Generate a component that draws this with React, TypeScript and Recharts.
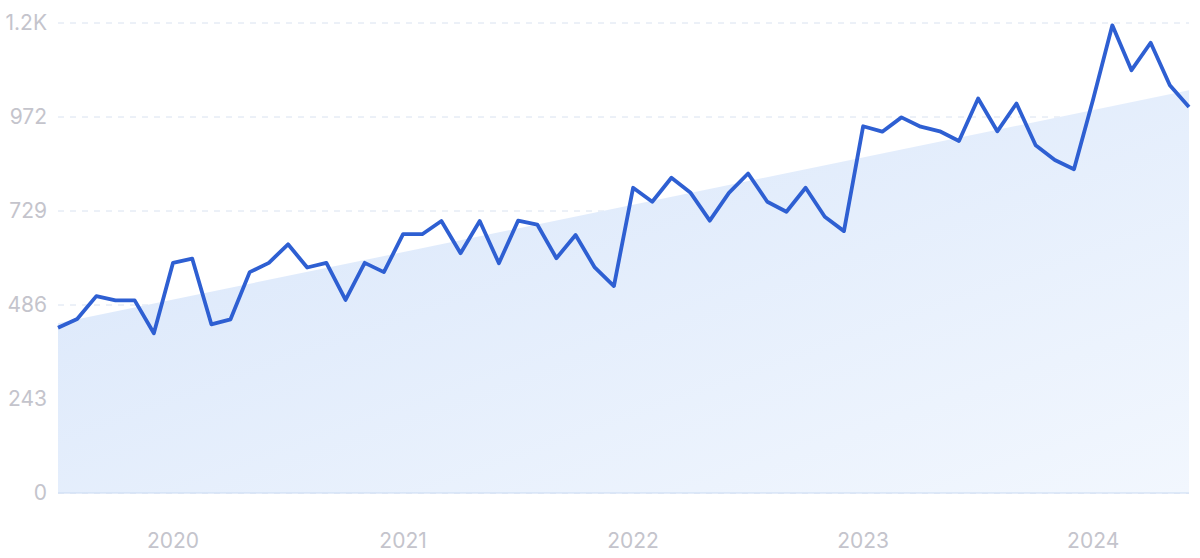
import { Area, CartesianGrid, ComposedChart, Line, XAxis, YAxis } from 'recharts'

const months = [
  'Jul 2019', 'Aug 2019', 'Sep 2019', 'Oct 2019', 'Nov 2019', 'Dec 2019',
  'Jan 2020', 'Feb 2020', 'Mar 2020', 'Apr 2020', 'May 2020', 'Jun 2020',
  'Jul 2020', 'Aug 2020', 'Sep 2020', 'Oct 2020', 'Nov 2020', 'Dec 2020',
  'Jan 2021', 'Feb 2021', 'Mar 2021', 'Apr 2021', 'May 2021', 'Jun 2021',
  'Jul 2021', 'Aug 2021', 'Sep 2021', 'Oct 2021', 'Nov 2021', 'Dec 2021',
  'Jan 2022', 'Feb 2022', 'Mar 2022', 'Apr 2022', 'May 2022', 'Jun 2022',
  'Jul 2022', 'Aug 2022', 'Sep 2022', 'Oct 2022', 'Nov 2022', 'Dec 2022',
  'Jan 2023', 'Feb 2023', 'Mar 2023', 'Apr 2023', 'May 2023', 'Jun 2023',
  'Jul 2023', 'Aug 2023', 'Sep 2023', 'Oct 2023', 'Nov 2023', 'Dec 2023',
  'Jan 2024', 'Feb 2024', 'Mar 2024', 'Apr 2024', 'May 2024', 'Jun 2024',
]

const volume = [
  427, 450, 509, 498, 498, 413, 595, 606, 436, 449, 571, 595,
  643, 583, 595, 499, 595, 571, 669, 669, 703, 620, 703, 594,
  704, 694, 607, 667, 583, 535, 789, 753, 815, 776, 704, 776,
  826, 753, 727, 789, 714, 677, 948, 934, 971, 947, 935, 910,
  1020, 935, 1007, 899, 861, 837, 1018, 1209, 1093, 1164, 1054, 998,
]

// trend line endpoints (shaded area)
const trendStart = 439
const trendEnd = 1041

const yTicks = [0, 243, 486, 729, 972, 1215]
const yearTicks = ['Jan 2020', 'Jan 2021', 'Jan 2022', 'Jan 2023', 'Jan 2024']

const data = months.map((m, i) => ({
  month: m,
  volume: volume[i],
  trend: i === 0 ? trendStart : i === months.length - 1 ? trendEnd : null,
}))

const fmtY = (v: number) => (v >= 1000 ? `${(v / 1000).toFixed(1)}K` : `${v}`)
const tickStyle = { fill: '#c4c4cc', fontSize: 21, fontFamily: 'Inter, sans-serif' }

export default function App() {
  return (
    <div style={{ position: 'absolute', left: 0, top: 0, width: 1200, height: 558, background: '#fff' }}>
      <ComposedChart width={1200} height={558} data={data} margin={{ top: 23, right: 11, left: 0, bottom: 0 }}>
        <defs>
          <linearGradient id="trendFill" x1="0" y1="0" x2="1" y2="1">
            <stop offset="0%" stopColor="#d7e5fa" />
            <stop offset="100%" stopColor="#f2f7fe" />
          </linearGradient>
        </defs>
        <CartesianGrid vertical={false} stroke="#d9e2f0" strokeDasharray="6 6" />
        <XAxis
          dataKey="month"
          ticks={yearTicks}
          tickFormatter={(v: string) => v.slice(4)}
          tickLine={false}
          tickMargin={34}
          axisLine={{ stroke: '#c9daf3' }}
          height={65}
          tick={tickStyle}
        />
        <YAxis
          domain={[0, 1215]}
          ticks={yTicks}
          tickFormatter={fmtY}
          tickLine={false}
          axisLine={false}
          tickMargin={5}
          width={58}
          tick={tickStyle}
        />
        <Area
          type="linear"
          dataKey="trend"
          connectNulls
          stroke="none"
          fill="url(#trendFill)"
          fillOpacity={1}
          isAnimationActive={false}
        />
        <Line
          type="linear"
          dataKey="volume"
          stroke="#2e5fd2"
          strokeWidth={3.8}
          dot={false}
          strokeLinejoin="round"
          isAnimationActive={false}
        />
      </ComposedChart>
    </div>
  )
}
